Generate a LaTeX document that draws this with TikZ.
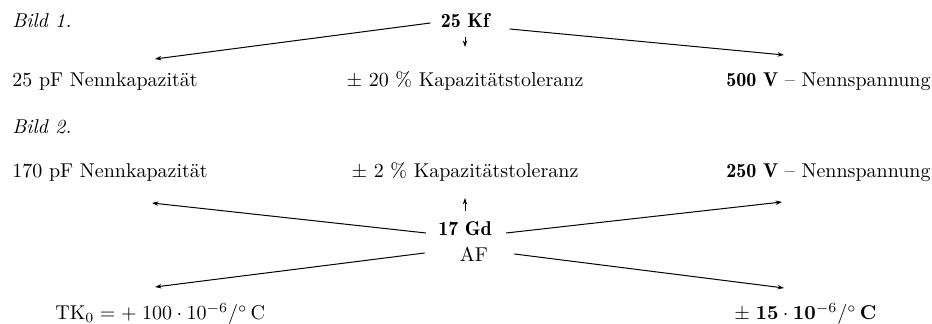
\documentclass[tikz,border=0pt]{standalone}
\usepackage{amsmath,amssymb}
\usepackage{tikz}
\usetikzlibrary{arrows.meta,positioning}

\newcommand{\heavy}[1]{{\fontseries{b}\selectfont #1}}

\begin{document}
\begin{tikzpicture}[x=0.5pt, y=-0.5pt,
    lbl/.style={inner sep=0pt, font=\normalsize},
    title/.style={inner sep=0pt, font=\normalsize\itshape},
    arr/.style={-{Stealth[length=3.2pt,width=2.2pt]}, line width=0.5pt}]
  \useasboundingbox (0,0) rectangle (932,324);
  % --- Bild 1 ---
  \node[title, anchor=base west] (bild1) at (12,28) {Bild\ 1.};
  \node[lbl, anchor=base] (kf) at (465,28) {\heavy{25 Kf}};
  \node[lbl, anchor=base west] (nenn1) at (12,87) {25 pF Nennkapazität};
  \node[lbl, anchor=base] (tol1) at (465,87) {$\pm$ 20 \% Kapazitätstoleranz};
  \node[lbl, anchor=base east] (span1) at (931,87) {\heavy{500 V} -- Nennspannung};
  % --- Arrows Bild 1 ---
  \draw[arr] ([xshift=-5pt,yshift=2.5pt]kf.base west) -- ([xshift=71.5pt,yshift=14pt]nenn1.base west);
  \draw[arr] ([xshift=10pt,yshift=-0.5pt]kf.base east) -- ([xshift=-73.5pt,yshift=16pt]span1.base east);
  \draw[arr] ([yshift=-4.5pt]kf.base) -- ([yshift=20pt]tol1.base);
  % --- Bild 2 ---
  \node[title, anchor=base west] (bild2) at (12,134) {Bild\ 2.};
  \node[lbl, anchor=base west] (nenn2) at (12,178) {170 pF Nennkapazität};
  \node[lbl, anchor=base] (tol2) at (465,178) {$\pm$ 2 \% Kapazitätstoleranz};
  \node[lbl, anchor=base east] (span2) at (931,178) {\heavy{250 V} -- Nennspannung};
  \node[lbl, anchor=base] (gd) at (465,236) {\heavy{17 Gd}};
  \node[lbl, anchor=base] (af) at (474,262) {AF};
  \node[lbl, anchor=base west] (tk) at (55,320)
    {$\mathrm{TK}_0 = +\;100\cdot10^{-6}/{}^{\circ}\,\mathrm{C}$};
  \node[lbl, anchor=base west] (tkb) at (734,320)
    {$\pm\;\mathbf{15}\cdot\mathbf{10}^{-6}/{}^{\circ}\,\mathbf{C}$};
  % --- Arrows Bild 2 ---
  \draw[arr] ([yshift=12.5pt]gd.base) -- ([yshift=-10pt]tol2.base);
  \draw[arr] ([xshift=-6pt,yshift=1.5pt]gd.base west) -- ([xshift=70pt,yshift=-12.5pt]nenn2.base west);
  \draw[arr] ([xshift=7pt,yshift=1.5pt]gd.base east) -- ([xshift=-74.5pt,yshift=-12pt]span2.base east);
  \draw[arr] ([xshift=-17.5pt,yshift=4.5pt]af.base west) -- ([xshift=50pt,yshift=16.5pt]tk.base west);
  \draw[arr] ([xshift=13pt,yshift=4pt]af.base east) -- ([xshift=25pt,yshift=16pt]tkb.base west);
\end{tikzpicture}
\end{document}
